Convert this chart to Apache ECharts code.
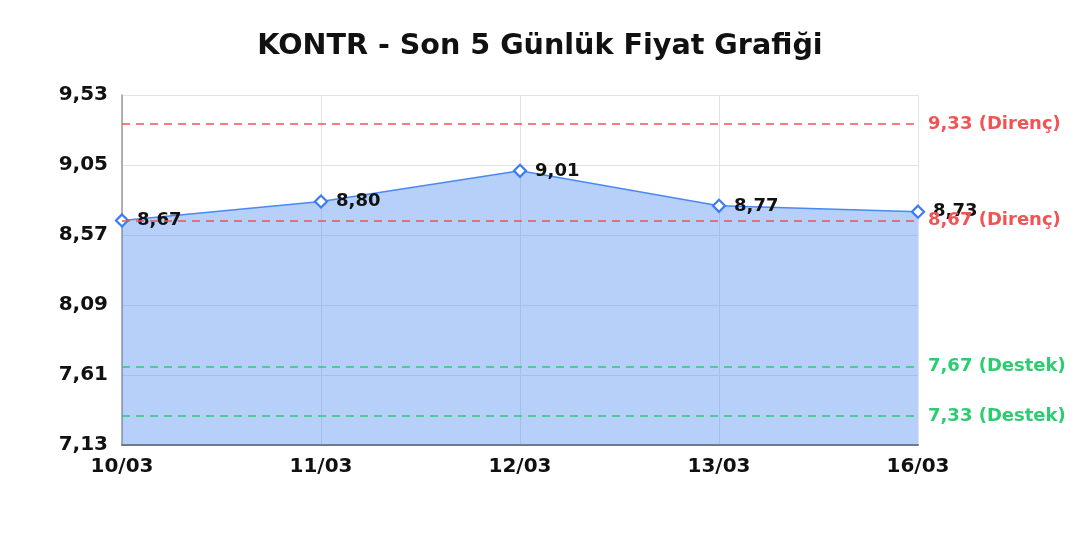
<!DOCTYPE html>
<html>
<head>
<meta charset="utf-8">
<script src="https://cdn.jsdelivr.net/npm/echarts@6/dist/echarts.min.js"></script>
<style>
    html, body { margin: 0; padding: 0; background: #fff; }
    #chart1 { width: 1080px; height: 540px; }
</style>
</head>
<body>
<div id="chart1"></div>
<script>
var dates = ['10/03', '11/03', '12/03', '13/03', '16/03'];
var prices = [8.67, 8.80, 9.01, 8.77, 8.73];
var resistance = [9.33, 8.67];
var support = [7.67, 7.33];
var yMin = 7.13;
var yMax = 9.53;
var yStep = 0.48;

var FONT = '"DejaVu Sans", sans-serif';

function tr(v) {
    return v.toFixed(2).replace('.', ',');
}

var lines = [];
resistance.forEach(function (v) {
    lines.push({
        yAxis: v,
        lineStyle: {color: '#f05454', type: [8, 6], width: 1.5},
        label: {formatter: tr(v) + ' (Direnç)', color: '#f05454'}
    });
});
support.forEach(function (v) {
    lines.push({
        yAxis: v,
        lineStyle: {color: '#2ecc71', type: [8, 6], width: 1.5},
        label: {formatter: tr(v) + ' (Destek)', color: '#2ecc71'}
    });
});

var myChart = echarts.init(document.getElementById('chart1'));

var option = {
    animation: false,
    textStyle: {fontFamily: FONT},
    title: {
        text: 'KONTR - Son 5 Günlük Fiyat Grafiği',
        left: 'center',
        top: 27,
        textStyle: {fontFamily: FONT, fontSize: 28.6, fontWeight: 'bold', color: '#111'}
    },
    grid: {left: 122, right: 162, top: 95, bottom: 95},
    xAxis: {
        type: 'category',
        data: dates,
        boundaryGap: false,
        axisLine: {lineStyle: {color: '#777', width: 2}},
        axisTick: {show: false},
        axisLabel: {fontFamily: FONT, fontSize: 20, fontWeight: 'bold', color: '#111', margin: 12},
        splitLine: {show: true, lineStyle: {color: '#e3e3e3'}}
    },
    yAxis: {
        type: 'value',
        min: yMin,
        max: yMax,
        interval: yStep,
        axisLine: {show: true, lineStyle: {color: '#999', width: 1.5}},
        axisTick: {show: false},
        axisLabel: {
            fontFamily: FONT, fontSize: 20, fontWeight: 'bold', color: '#111', margin: 14,
            formatter: function (v) { return tr(v); }
        },
        splitLine: {lineStyle: {color: '#e3e3e3'}}
    },
    series: [
        {
            name: 'Fiyat',
            type: 'line',
            data: prices,
            symbol: 'diamond',
            symbolSize: 12,
            itemStyle: {color: '#fff', borderColor: '#3b7cf0', borderWidth: 2.2},
            lineStyle: {color: '#4a89f3', width: 1.5},
            areaStyle: {color: '#4a89f3', opacity: 0.4},
            label: {
                show: true,
                position: 'right',
                distance: 8,
                fontFamily: FONT,
                fontSize: 18,
                fontWeight: 'bold',
                color: '#111',
                formatter: function (p) { return tr(p.value); }
            },
            markLine: {
                silent: true,
                symbol: 'none',
                label: {
                    position: 'end',
                    distance: 10,
                    fontFamily: FONT,
                    fontSize: 18,
                    fontWeight: 'bold'
                },
                data: lines
            },
            z: 3
        }
    ]
};

if (option && typeof option === "object") {
    myChart.setOption(option, true);
}
</script>
</body>
</html>
